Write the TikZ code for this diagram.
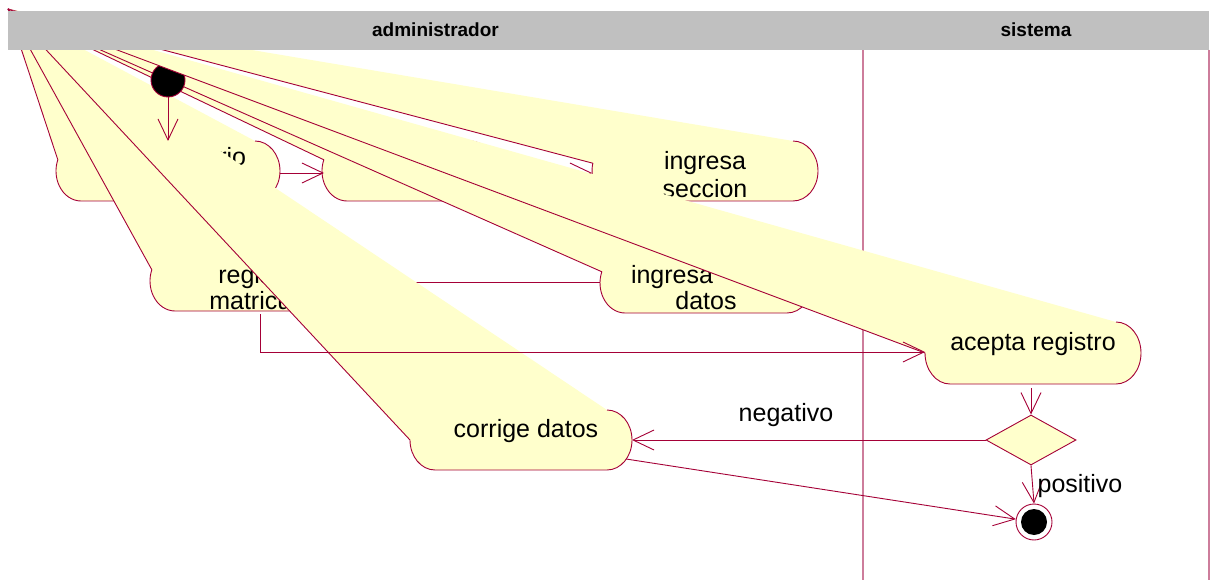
\documentclass[tikz,border=0pt]{standalone}
\usepackage{fontspec}
\setmainfont{Liberation Sans}
\usetikzlibrary{arrows.meta,shapes.geometric}
\definecolor{rosered}{RGB}{165,0,55}
\definecolor{actyellow}{RGB}{255,255,204}
\definecolor{lanepink}{RGB}{205,125,155}
\definecolor{headgray}{RGB}{192,192,192}
% #1 left, #2 right, #3 top, #4 bottom, #5 end angle of the left arc
\newcommand\rosewedge[5]{%
  \pgfmathsetmacro\wry{(#4-#3)/2}%
  \fill[actyellow] (apex) -- ({#2-25},#3) arc[start angle=-90,end angle=90,x radius=25,y radius=\wry] -- ({#1+25},#4) arc[start angle=90,end angle=#5,x radius=25,y radius=\wry] -- cycle;
  \draw[actline] ({#2-25},#3) arc[start angle=-90,end angle=90,x radius=25,y radius=\wry] -- ({#1+25},#4) arc[start angle=90,end angle=#5,x radius=25,y radius=\wry] -- (apex);
}
\tikzset{
  actline/.style={draw=rosered,line width=0.9pt,line join=round},
  laneline/.style={draw=lanepink,line width=1.3pt},
  trans/.style={draw=rosered,line width=0.9pt,-{Straight Barb[length=21pt,width=20pt,line width=0.9pt]}},
  plainline/.style={draw=rosered,line width=0.9pt},
  acttext/.style={inner sep=0pt,anchor=base,font=\fontsize{25}{28}\selectfont},
  lanehead/.style={inner sep=0pt,anchor=base,font=\fontsize{19}{22}\selectfont\bfseries},
}
\begin{document}
\begin{tikzpicture}[x=1pt,y=-1pt]
\useasboundingbox (0,0) rectangle (1218,580);
\fill[white] (0,0) rectangle (1218,580);
\coordinate (apex) at (8,9);
% swimlane lines
\coordinate (div1) at (863,50); \coordinate (div1b) at (863,580);
\coordinate (div2) at (1209,50); \coordinate (div2b) at (1209,580);
\draw[laneline] (div1) -- (div1b);
\draw[laneline] (div2) -- (div2b);
% activity 1
\rosewedge{56}{280}{141}{201}{202}
\node[acttext] (ta1) at (169,166) {valida usuario};
% hidden activity
\rosewedge{322}{495}{141}{201}{202}
% registra matricula
\rosewedge{150}{370}{251}{311}{202}
\node[acttext] (trg1) at (260,283) {registra};
\node[acttext] (trg2) at (260,309) {matricula};
\coordinate (rgE) at (370,282); \coordinate (idW) at (600,282);
\draw[plainline] (rgE) -- (idW);
% ingresa datos
\rosewedge{600}{812}{253}{313}{202}
\node[acttext] (tid1) at (672,283) {ingresa};
\node[acttext] (tid2) at (706,309) {datos};
% ingresa seccion
\rosewedge{592}{818}{141}{201}{195}
\node[acttext] (tis1) at (705,170) {ingresa};
\node[acttext] (tis2) at (705,198) {seccion};
\coordinate (xE) at (495,173); \coordinate (isW) at (592,173);
\draw[trans] (xE) -- (isW);
% start state
\node[circle,fill=black,draw=rosered,line width=0.9pt,minimum size=34pt,inner sep=0pt] (start) at (168,80) {};
% acepta registro
\rosewedge{925}{1141}{322}{384}{180}
\node[acttext] (tac) at (1033,350) {acepta registro};
% corrige datos
\rosewedge{410}{632}{410}{470}{180}
\node[acttext] (tco) at (526,437) {corrige datos};
% header
\fill[headgray] (8,11) rectangle (1209,50);
\node[lanehead] (lane1) at (435.5,37) {administrador};
\node[lanehead] (lane2) at (1036,37) {sistema};
% decision and final
\node[diamond,draw=rosered,fill=actyellow,line width=0.9pt,minimum width=90pt,minimum height=50pt,inner sep=0pt] (dec) at (1031,440) {};
\node[circle,draw=rosered,fill=white,line width=0.9pt,minimum size=36pt,inner sep=0pt] (fin) at (1034,522) {};
\node[circle,fill=black,minimum size=26pt,inner sep=0pt] (finin) at (fin) {};
% transitions
\coordinate (a1N) at (168,141);
\draw[trans] (start.south) -- (a1N);
\coordinate (a1E) at (280,173); \coordinate (xW) at (324,173);
\draw[trans] (a1E) -- (xW);
\coordinate (rgS) at (260,314); \coordinate (rgC) at (260,352); \coordinate (acW) at (925,352);
\draw[trans] (rgS) -- (rgC) -- (acW);
\coordinate (acS) at (1031,388);
\draw[trans] (acS) -- (dec.north);
\coordinate (coE) at (632,440);
\draw[trans] (dec.west) -- (coE);
\draw[trans] (dec.south) -- (fin.north);
\coordinate (coSE) at (626,459);
\draw[trans] (coSE) -- (fin);
\node[acttext] (neg) at (786,421) {negativo};
\node[acttext] (pos) at (1080,492) {positivo};
\end{tikzpicture}
\end{document}
